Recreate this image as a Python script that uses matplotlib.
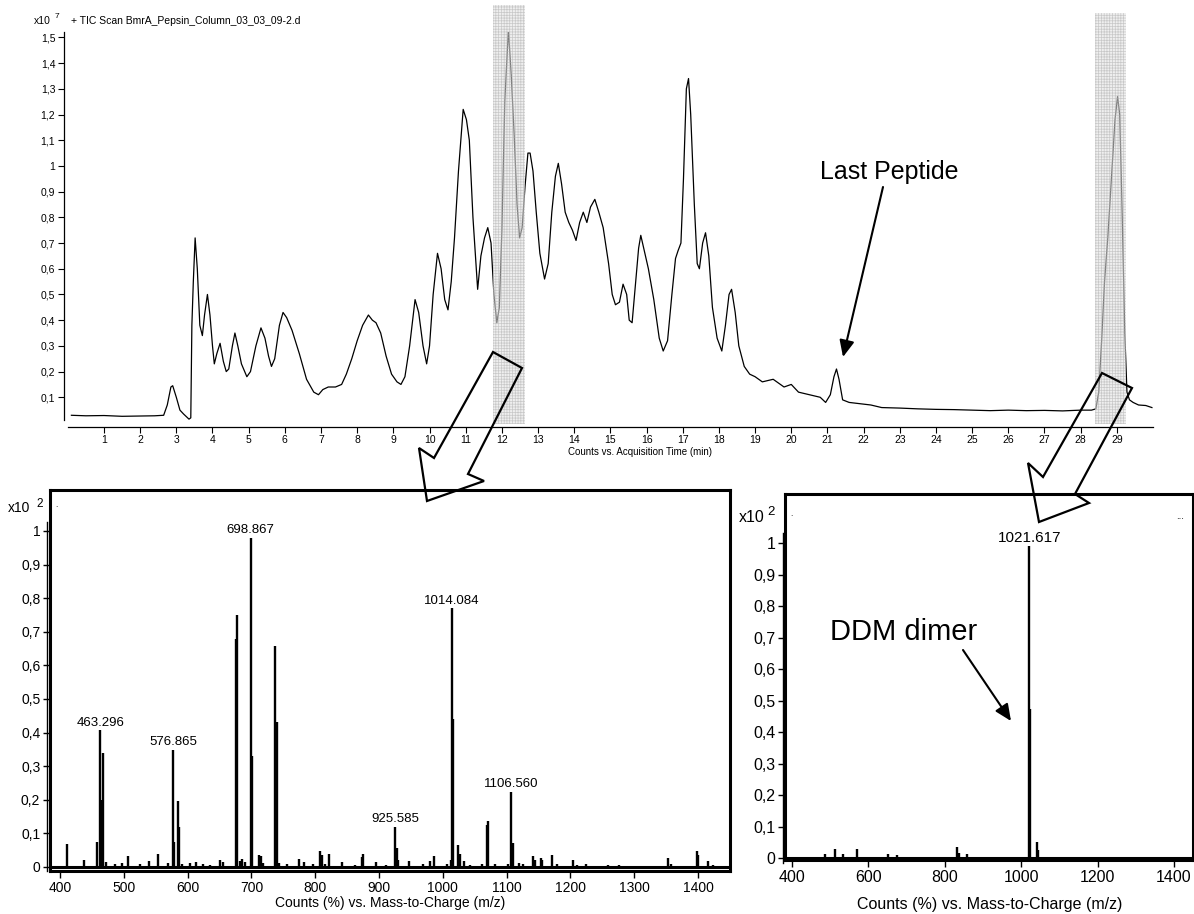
import numpy as np
import matplotlib
matplotlib.use('Agg')
import matplotlib.pyplot as plt
from matplotlib.patches import Polygon, FancyArrowPatch
from matplotlib.lines import Line2D

W, H = 1194, 914

# TIC chromatogram (time in min, counts in 1e7)
tic_time = [0.1, 0.5, 1.0, 1.5, 2.0, 2.4, 2.65, 2.75, 2.85, 2.9,
            3.0, 3.1, 3.2, 3.35, 3.4, 3.43, 3.47, 3.52, 3.58, 3.65,
            3.72, 3.78, 3.86, 3.93, 4.0, 4.05, 4.12, 4.21, 4.3, 4.38,
            4.45, 4.55, 4.62, 4.7, 4.8, 4.95, 5.05, 5.2, 5.34, 5.45,
            5.55, 5.63, 5.72, 5.85, 5.95, 6.05, 6.2, 6.4, 6.6, 6.8,
            6.93, 7.05, 7.2, 7.4, 7.57, 7.7, 7.85, 8.0, 8.15, 8.31,
            8.42, 8.52, 8.65, 8.8, 8.95, 9.1, 9.21, 9.32, 9.45, 9.6,
            9.7, 9.82, 9.92, 10.0, 10.1, 10.22, 10.32, 10.42, 10.51, 10.6,
            10.69, 10.8, 10.93, 11.02, 11.1, 11.2, 11.33, 11.42, 11.52, 11.61,
            11.7, 11.78, 11.86, 11.93, 12.0, 12.08, 12.18, 12.26, 12.34, 12.42,
            12.49, 12.56, 12.64, 12.72, 12.78, 12.86, 12.95, 13.05, 13.18, 13.28,
            13.38, 13.48, 13.56, 13.65, 13.75, 13.85, 13.95, 14.05, 14.15, 14.25,
            14.35, 14.45, 14.57, 14.68, 14.8, 14.95, 15.05, 15.14, 15.25, 15.35,
            15.45, 15.52, 15.6, 15.7, 15.78, 15.84, 15.92, 16.05, 16.2, 16.35,
            16.46, 16.58, 16.7, 16.8, 16.87, 16.95, 17.02, 17.1, 17.16, 17.22,
            17.32, 17.4, 17.46, 17.55, 17.63, 17.72, 17.82, 17.95, 18.08, 18.18,
            18.28, 18.35, 18.45, 18.55, 18.7, 18.85, 19.0, 19.2, 19.5, 19.8,
            20.0, 20.2, 20.5, 20.8, 20.95, 21.08, 21.18, 21.25, 21.32, 21.42,
            21.6, 21.9, 22.2, 22.5, 23.0, 23.5, 24.0, 24.5, 25.0, 25.5,
            26.0, 26.5, 27.0, 27.5, 28.0, 28.3, 28.42, 28.5, 28.58, 28.66,
            28.75, 28.85, 28.95, 29.02, 29.08, 29.15, 29.22, 29.28, 29.35, 29.45,
            29.6, 29.8, 29.97]
tic_counts = [0.03, 0.028, 0.029, 0.026, 0.027, 0.028, 0.03, 0.07, 0.14, 0.145,
              0.1, 0.05, 0.035, 0.015, 0.02, 0.38, 0.55, 0.72, 0.6, 0.38,
              0.34, 0.42, 0.5, 0.42, 0.3, 0.23, 0.27, 0.31, 0.24, 0.2,
              0.21, 0.3, 0.35, 0.3, 0.23, 0.18, 0.2, 0.3, 0.37, 0.33,
              0.26, 0.22, 0.25, 0.38, 0.43, 0.41, 0.36, 0.27, 0.17, 0.12,
              0.11, 0.13, 0.14, 0.14, 0.15, 0.19, 0.25, 0.32, 0.38, 0.42,
              0.4, 0.39, 0.35, 0.26, 0.19, 0.16, 0.15, 0.18, 0.3, 0.48,
              0.43, 0.3, 0.23, 0.3, 0.5, 0.66, 0.6, 0.48, 0.44, 0.55,
              0.72, 0.98, 1.22, 1.18, 1.1, 0.8, 0.52, 0.65, 0.72, 0.76,
              0.7, 0.5, 0.39, 0.45, 0.75, 1.25, 1.53, 1.35, 1.12, 0.85,
              0.72, 0.76, 0.92, 1.05, 1.05, 0.98, 0.82, 0.66, 0.56, 0.62,
              0.82, 0.96, 1.01, 0.93, 0.82, 0.78, 0.75, 0.71, 0.78, 0.82,
              0.78, 0.84, 0.87, 0.82, 0.76, 0.62, 0.5, 0.46, 0.47, 0.54,
              0.5, 0.4, 0.39, 0.55, 0.68, 0.73, 0.68, 0.6, 0.48, 0.33,
              0.28, 0.32, 0.5, 0.64, 0.67, 0.7, 0.95, 1.3, 1.34, 1.2,
              0.85, 0.62, 0.6, 0.7, 0.74, 0.65, 0.45, 0.33, 0.28, 0.38,
              0.5, 0.52, 0.43, 0.3, 0.22, 0.19, 0.18, 0.16, 0.17, 0.14,
              0.15, 0.12, 0.11, 0.1, 0.08, 0.11, 0.18, 0.21, 0.17, 0.09,
              0.08, 0.075, 0.07, 0.06, 0.058, 0.055, 0.053, 0.052, 0.05, 0.048,
              0.05, 0.048, 0.049, 0.047, 0.05, 0.05, 0.055, 0.12, 0.32, 0.55,
              0.72, 0.95, 1.18, 1.27, 1.2, 0.8, 0.35, 0.12, 0.09, 0.08,
              0.07, 0.068, 0.06]
tic_ticks = list(range(1, 30))
tic_yticks = [0.1, 0.2, 0.3, 0.4, 0.5, 0.6, 0.7, 0.8, 0.9, 1.0,
              1.1, 1.2, 1.3, 1.4, 1.5]
shade_windows = [(11.75, 12.64), (28.39, 29.25)]

# MS spectrum at ~12 min (m/z, counts in 1e2 %)
ms1_mz = [410.4, 437.4, 458.5, 463.296, 464.8, 466.9, 472, 485.8, 497.8, 507.3,
          525, 539, 553.5, 569.6, 576.865, 578.6, 584.9, 587, 590.5, 603.6,
          613, 624.5, 635, 650.7, 655, 675.8, 677.9, 682, 686, 690,
          698.867, 700.9, 711.3, 715, 718.8, 737.4, 739.5, 742.8, 756.4, 775.2,
          782.5, 797, 807.5, 810.7, 815, 821.6, 841.5, 862.4, 872.8, 874.4,
          896, 911.7, 925.585, 927.7, 930.3, 947.5, 969.4, 979.9, 986.2, 1006,
          1012.3, 1014.084, 1016.5, 1024.3, 1026.9, 1033.7, 1042.6, 1060.9, 1068.7, 1070.8,
          1081.8, 1102.7, 1106.56, 1110, 1119.9, 1126, 1141.9, 1144.5, 1153.9, 1155.5,
          1171.2, 1178.5, 1204.6, 1209.8, 1223.9, 1259.4, 1276.6, 1353.4, 1357, 1397.9,
          1400.5, 1415.7, 1424]
ms1_int = [0.067, 0.022, 0.074, 0.407, 0.198, 0.34, 0.015, 0.01, 0.012, 0.032,
           0.008, 0.018, 0.038, 0.013, 0.349, 0.074, 0.195, 0.12, 0.01, 0.012,
           0.015, 0.008, 0.007, 0.02, 0.015, 0.68, 0.75, 0.018, 0.023, 0.015,
           0.98, 0.33, 0.035, 0.034, 0.013, 0.657, 0.43, 0.012, 0.008, 0.023,
           0.015, 0.01, 0.047, 0.035, 0.01, 0.038, 0.015, 0.007, 0.03, 0.038,
           0.015, 0.007, 0.119, 0.057, 0.02, 0.017, 0.008, 0.017, 0.034, 0.01,
           0.02, 0.77, 0.44, 0.064, 0.038, 0.017, 0.007, 0.008, 0.124, 0.136,
           0.01, 0.008, 0.223, 0.071, 0.013, 0.008, 0.032, 0.02, 0.028, 0.02,
           0.035, 0.008, 0.02, 0.007, 0.008, 0.006, 0.006, 0.028, 0.008, 0.047,
           0.035, 0.017, 0.005]
ms1_labels = [(463.296, '463.296'), (576.865, '576.865'), (698.867, '698.867'),
              (925.585, '925.585'), (1014.084, '1014.084'), (1106.56, '1106.560')]

# MS spectrum at ~29 min
ms2_mz = [486, 512.6, 534, 571, 651, 674, 832.8, 836, 859, 1021.617,
          1023.5, 1041, 1045]
ms2_int = [0.012, 0.03, 0.012, 0.03, 0.012, 0.01, 0.035, 0.015, 0.012, 0.99,
           0.474, 0.05, 0.026]
ms2_labels = [(1021.617, '1021.617')]

ms_xticks1 = [400, 500, 600, 700, 800, 900, 1000, 1100, 1200, 1300, 1400]
ms_xticks2 = [400, 600, 800, 1000, 1200, 1400]
ms_yticks = [0, 0.1, 0.2, 0.3, 0.4, 0.5, 0.6, 0.7, 0.8, 0.9, 1.0]


def comma_label(v):
    if abs(v - round(v)) < 1e-9:
        return '{:d}'.format(int(round(v)))
    return '{:.1f}'.format(v).replace('.', ',')


def fx(x):
    return x / W


def fy(y):
    return 1 - y / H


def rect(left, top, right, bottom):
    return [fx(left), fy(bottom), (right - left) / W, (bottom - top) / H]


def draw_spectrum(ax, mz, inten, labels, xticks, fs, label_fs):
    ax.vlines(mz, 0, inten, colors='black', lw=1.7)
    ax.axhline(0, color='black', lw=2.2)
    for spine in ax.spines.values():
        spine.set_linewidth(2.2)
    ax.set_yticks(ms_yticks)
    ax.set_yticklabels([comma_label(v) for v in ms_yticks])
    ax.set_xticks(xticks)
    ax.set_xticklabels(['{:d}'.format(v) for v in xticks])
    ax.tick_params(direction='out', length=5, width=1, labelsize=fs, pad=2)
    for m, txt in labels:
        h = inten[mz.index(m)]
        ax.text(m, h + 0.005, txt, ha='center', va='bottom', fontsize=label_fs)


plt.rcParams['font.family'] = ['Liberation Sans', 'DejaVu Sans']
plt.rcParams['hatch.linewidth'] = 0.5
fig = plt.figure(figsize=(W / 100, H / 100), dpi=100)

# ---- top chromatogram
ax = fig.add_axes(rect(67.8, 32, 1153, 427))
ax.plot(tic_time, tic_counts, color='black', lw=0.9)
ax.set_xlim(0, 30)
ax.set_ylim(-0.0156, 1.521)
ax.spines['top'].set_visible(False)
ax.spines['right'].set_visible(False)
ax.spines['left'].set_position(('outward', 3))
ax.spines['left'].set_bounds(0.012, 1.521)
ax.spines['left'].set_linewidth(0.9)
ax.spines['bottom'].set_linewidth(0.9)
ax.set_xticks(tic_ticks)
ax.set_yticks(tic_yticks)
ax.set_yticklabels([comma_label(v) for v in tic_yticks])
ax.tick_params(direction='out', length=4, width=0.8, labelsize=7.5, pad=2)
for (t0, t1), top in zip(shade_windows, [1.068, 1.048]):
    span = ax.axvspan(t0, t1, ymin=0.008, ymax=top, facecolor='#e2e2e2',
                      edgecolor='#a8a8a8', hatch='++++++', lw=0, alpha=0.55,
                      zorder=3)
    span.set_clip_on(False)

fig.text(fx(34), fy(21), 'x10', fontsize=7.5, va='center')
fig.text(fx(55), fy(17), '7', fontsize=6, va='center')
fig.text(fx(71), fy(21), '+ TIC Scan BmrA_Pepsin_Column_03_03_09-2.d',
         fontsize=7.5, va='center')
fig.text(fx(640), fy(452), 'Counts vs. Acquisition Time (min)',
         fontsize=7, ha='center', va='center')

# ---- left spectrum
ax1 = fig.add_axes(rect(50, 490, 730, 871))
draw_spectrum(ax1, ms1_mz, ms1_int, ms1_labels, ms_xticks1, 10, 9.5)
ax1.set_xlim(384.3, 1450.2)
ax1.set_ylim(-0.012, 1.122)
fig.text(fx(8), fy(508), 'x10', fontsize=10, va='center')
fig.text(fx(36), fy(504), '2', fontsize=8.5, va='center')
fig.text(fx(55), fy(506), '.', fontsize=6, va='center')
fig.text(fx(390), fy(903), 'Counts (%) vs. Mass-to-Charge (m/z)',
         fontsize=10, ha='center', va='center')
fig.add_artist(Line2D([fx(47), fx(47)], [fy(522), fy(871)], lw=1,
                      color='black'))

# ---- right spectrum
ax2 = fig.add_axes(rect(785, 494, 1193, 860))
draw_spectrum(ax2, ms2_mz, ms2_int, ms2_labels, ms_xticks2, 11.5, 11)
ax2.set_xlim(381.7, 1449.7)
ax2.set_ylim(-0.0063, 1.156)
fig.text(fx(739), fy(517), 'x10', fontsize=11.5, va='center')
fig.text(fx(767), fy(512), '2', fontsize=9.5, va='center')
fig.text(fx(790), fy(514), '.', fontsize=6, va='center')
fig.text(fx(1180), fy(516), '...', fontsize=7, ha='center', va='center')
fig.text(fx(990), fy(904), 'Counts (%) vs. Mass-to-Charge (m/z)',
         fontsize=11.5, ha='center', va='center')
fig.add_artist(Line2D([fx(783), fx(783)], [fy(533), fy(863)], lw=1,
                      color='black'))

# ---- annotations
fig.text(fx(889), fy(172), 'Last Peptide', fontsize=18, ha='center',
         va='center')
fig.add_artist(FancyArrowPatch(
    (fx(883), fy(187)), (fx(843), fy(357)), transform=fig.transFigure,
    arrowstyle='-|>,head_length=1.0,head_width=0.45', mutation_scale=10,
    lw=1.5, color='black', shrinkA=0, shrinkB=0))

fig.text(fx(904), fy(632), 'DDM dimer', fontsize=21, ha='center',
         va='center')
fig.add_artist(FancyArrowPatch(
    (fx(963), fy(650)), (fx(1011), fy(721)), transform=fig.transFigure,
    arrowstyle='-|>,head_length=1.0,head_width=0.45', mutation_scale=10,
    lw=1.5, color='black', shrinkA=0, shrinkB=0))

block_arrows = [
    [(493, 352), (522, 368), (468, 474), (484, 481), (427, 501), (419, 448),
     (434, 458)],
    [(1102, 373), (1132, 388), (1075, 494), (1089, 503), (1039, 522),
     (1028, 463), (1043, 477)],
]
for pts in block_arrows:
    fig.add_artist(Polygon([(fx(x), fy(y)) for x, y in pts], closed=True,
                           fill=False, lw=1.6, edgecolor='black',
                           transform=fig.transFigure, zorder=10))

fig.savefig('out.png', dpi=100)
